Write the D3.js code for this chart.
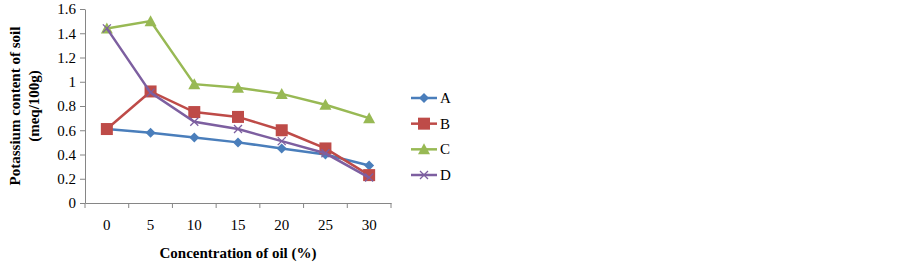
<!DOCTYPE html>
<html>
<head>
<meta charset="utf-8">
<script src="https://cdn.jsdelivr.net/npm/d3@7"></script>
<style>
  body { margin: 0; background: #fff; }
  svg { display: block; }
</style>
</head>
<body>
<svg class="chart" width="903" height="266"></svg>
<script>
// data
var concentrations = ["0", "5", "10", "15", "20", "25", "30"];
var seriesNames = ["A", "B", "C", "D"];
var valuesA = [0.61, 0.58, 0.54, 0.50, 0.45, 0.40, 0.31];
var valuesB = [0.61, 0.92, 0.75, 0.71, 0.60, 0.45, 0.23];
var valuesC = [1.44, 1.50, 0.98, 0.95, 0.90, 0.81, 0.70];
var valuesD = [1.44, 0.91, 0.67, 0.61, 0.51, 0.41, 0.21];
var yTicks = [0, 0.2, 0.4, 0.6, 0.8, 1, 1.2, 1.4, 1.6];

var colors = { A: "#4A7EBB", B: "#BE4B48", C: "#98B954", D: "#7D5FA0" };
var symbols = { A: "diamond", B: "square", C: "triangle", D: "cross" };
var series = [
    { name: "A", values: valuesA },
    { name: "B", values: valuesB },
    { name: "C", values: valuesC },
    { name: "D", values: valuesD }
];

var svg = d3.select(".chart");
var font = "'Liberation Serif', 'Times New Roman', serif";

var plotLeft = 85, plotRight = 391, plotTop = 9, plotBottom = 203;

var x = d3.scaleBand()
    .domain(concentrations)
    .range([plotLeft, plotRight]);

var y = d3.scaleLinear()
    .domain([0, 1.6])
    .range([plotBottom, plotTop]);

// y axis
var yAxis = svg.append("g")
    .attr("transform", `translate(${plotLeft},0)`)
    .call(d3.axisLeft(y).tickValues(yTicks).tickSize(5).tickSizeOuter(0).tickFormat(d3.format("")));
yAxis.select(".domain").attr("stroke", "#868686");
yAxis.selectAll(".tick line").attr("stroke", "#868686");
yAxis.selectAll("text")
    .attr("font-family", font)
    .attr("font-size", "15px")
    .attr("fill", "#000")
    .attr("x", -9);

// x axis, ticks on the category boundaries
var xAxis = svg.append("g")
    .attr("transform", `translate(0,${plotBottom})`)
    .call(d3.axisBottom(x).tickSize(0).tickSizeOuter(0));
xAxis.select(".domain").attr("stroke", "#868686");
xAxis.selectAll("text")
    .attr("font-family", font)
    .attr("font-size", "15px")
    .attr("fill", "#000")
    .attr("y", 16);

var bounds = concentrations.map(function (c) { return x(c); }).concat([plotRight]);
svg.append("g").selectAll("line")
    .data(bounds)
    .join("line")
    .attr("x1", function (d) { return d; })
    .attr("x2", function (d) { return d; })
    .attr("y1", plotBottom)
    .attr("y2", plotBottom + 5)
    .attr("stroke", "#868686");

// axis titles
svg.append("text")
    .attr("x", (plotLeft + plotRight) / 2)
    .attr("y", 258)
    .attr("text-anchor", "middle")
    .attr("font-family", font)
    .attr("font-size", "15px")
    .attr("font-weight", "bold")
    .text("Concentration of oil (%)");

var yt = svg.append("text")
    .attr("transform", `translate(0,${(plotTop + plotBottom) / 2}) rotate(-90)`)
    .attr("text-anchor", "middle")
    .attr("font-family", font)
    .attr("font-size", "15px")
    .attr("font-weight", "bold");
yt.append("tspan").attr("x", 0).attr("y", 20).text("Potassium content of soil");
yt.append("tspan").attr("x", 0).attr("y", 39).text("(meq/100g)");

var cx = function (i) { return x(concentrations[i]) + x.bandwidth() / 2; };

function marker(g, name, px, py) {
    var c = colors[name];
    if (symbols[name] === "diamond") {
        g.append("path")
            .attr("d", `M${px},${py - 5}L${px + 5},${py}L${px},${py + 5}L${px - 5},${py}Z`)
            .attr("fill", c);
    } else if (symbols[name] === "square") {
        g.append("rect")
            .attr("x", px - 6).attr("y", py - 6)
            .attr("width", 12).attr("height", 12)
            .attr("fill", c);
    } else if (symbols[name] === "triangle") {
        g.append("path")
            .attr("d", `M${px},${py - 6}L${px + 6},${py + 5}L${px - 6},${py + 5}Z`)
            .attr("fill", c);
    } else {
        g.append("path")
            .attr("d", `M${px - 4},${py - 4}L${px + 4},${py + 4}M${px - 4},${py + 4}L${px + 4},${py - 4}`)
            .attr("stroke", c)
            .attr("stroke-width", 1.3)
            .attr("fill", "none");
    }
}

var line = d3.line()
    .x(function (d, i) { return cx(i); })
    .y(function (d) { return y(d); });

series.forEach(function (s) {
    var g = svg.append("g");
    g.append("path")
        .attr("d", line(s.values))
        .attr("fill", "none")
        .attr("stroke", colors[s.name])
        .attr("stroke-width", 2.5);
    s.values.forEach(function (v, i) {
        marker(g, s.name, cx(i), y(v));
    });
});

// legend
var legendY = d3.scalePoint().domain(seriesNames).range([98, 175]);
seriesNames.forEach(function (n) {
    var ly = legendY(n);
    var g = svg.append("g");
    g.append("line")
        .attr("x1", 411).attr("x2", 437)
        .attr("y1", ly).attr("y2", ly)
        .attr("stroke", colors[n])
        .attr("stroke-width", 2.5);
    marker(g, n, 424, ly);
    g.append("text")
        .attr("x", 440)
        .attr("y", ly + 5)
        .attr("font-family", font)
        .attr("font-size", "15px")
        .text(n);
});
</script>
</body>
</html>
